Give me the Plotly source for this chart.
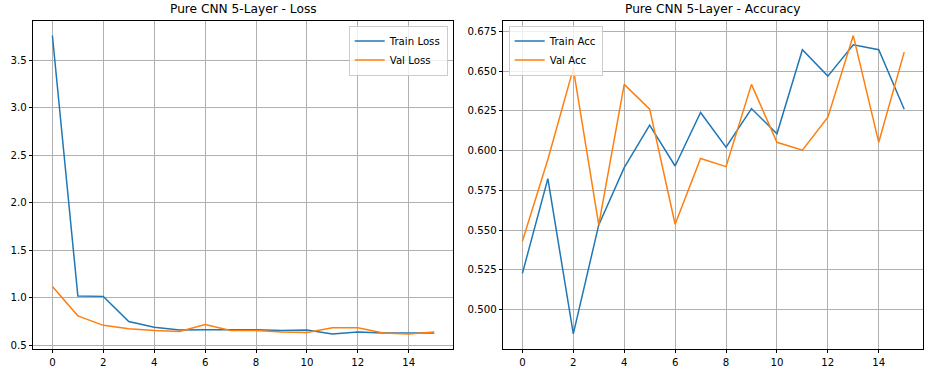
import plotly.graph_objects as go

epochs = list(range(16))
train_loss = [3.76, 1.02, 1.015, 0.75, 0.69, 0.66, 0.665, 0.665, 0.665, 0.655, 0.66, 0.62, 0.64, 0.63, 0.63, 0.63]
val_loss = [1.12, 0.81, 0.71, 0.675, 0.655, 0.645, 0.72, 0.655, 0.655, 0.64, 0.635, 0.685, 0.685, 0.63, 0.62, 0.64]
train_acc = [0.5228, 0.5824, 0.4848, 0.5533, 0.5893, 0.6160, 0.5903, 0.6239, 0.6021, 0.6264, 0.6106, 0.6634, 0.6468, 0.6665, 0.6634, 0.6260]
val_acc = [0.5430, 0.5944, 0.6515, 0.5533, 0.6416, 0.6260, 0.5537, 0.5950, 0.5899, 0.6416, 0.6052, 0.6003, 0.6210, 0.6723, 0.6052, 0.6619]

titles = ["Pure CNN 5-Layer - Loss", "Pure CNN 5-Layer - Accuracy"]
loss_ticks = [0.5, 1.0, 1.5, 2.0, 2.5, 3.0, 3.5]
acc_ticks = [0.500, 0.525, 0.550, 0.575, 0.600, 0.625, 0.650, 0.675]
x_ticks = [0, 2, 4, 6, 8, 10, 12, 14]

BLUE = "#1f77b4"
ORANGE = "#ff7f0e"
W, H = 930, 375
FONT = "DejaVu Sans"


def px_x(p):
    return p / W


def px_y(p):
    return 1 - p / H


fig = go.Figure()
fig.add_trace(go.Scatter(x=epochs, y=train_loss, mode="lines", name="Train Loss",
                         line=dict(color=BLUE, width=1.5), xaxis="x", yaxis="y", legend="legend"))
fig.add_trace(go.Scatter(x=epochs, y=val_loss, mode="lines", name="Val Loss",
                         line=dict(color=ORANGE, width=1.5), xaxis="x", yaxis="y", legend="legend"))
fig.add_trace(go.Scatter(x=epochs, y=train_acc, mode="lines", name="Train Acc",
                         line=dict(color=BLUE, width=1.5), xaxis="x2", yaxis="y2", legend="legend2"))
fig.add_trace(go.Scatter(x=epochs, y=val_acc, mode="lines", name="Val Acc",
                         line=dict(color=ORANGE, width=1.5), xaxis="x2", yaxis="y2", legend="legend2"))

ydom = [px_y(350.7), px_y(20.7)]
x1dom = [px_x(33.3), px_x(453.3)]
x2dom = [px_x(503.3), px_x(923.3)]

axis_common = dict(showline=True, linecolor="black", linewidth=1, mirror=True,
                   ticks="outside", ticklen=3.5, tickwidth=0.8, tickcolor="black",
                   showgrid=True, gridcolor="#b0b0b0", gridwidth=0.8, zeroline=False,
                   tickfont=dict(family=FONT, size=10.2, color="black"))

legend_common = dict(yanchor="top", bgcolor="rgba(255,255,255,0.8)", bordercolor="#cccccc",
                     borderwidth=1, font=dict(family=FONT, size=10.2), itemwidth=30,
                     tracegroupgap=0)

fig.update_layout(
    width=W, height=H,
    margin=dict(l=0, r=0, t=0, b=0),
    paper_bgcolor="white", plot_bgcolor="white",
    font=dict(family=FONT, color="black"),
    xaxis=dict(domain=x1dom, range=[-0.75, 15.75], tickvals=x_ticks, anchor="y", **axis_common),
    yaxis=dict(domain=ydom, range=[0.463, 3.917], tickvals=loss_ticks,
               ticktext=[f"{v:.1f}" for v in loss_ticks], anchor="x", **axis_common),
    xaxis2=dict(domain=x2dom, range=[-0.75, 15.75], tickvals=x_ticks, anchor="y2", **axis_common),
    yaxis2=dict(domain=ydom, range=[0.4754, 0.6817], tickvals=acc_ticks,
                ticktext=[f"{v:.3f}" for v in acc_ticks], anchor="x2", **axis_common),
    legend=dict(x=px_x(447.7), y=px_y(25.7), xanchor="right", **legend_common),
    legend2=dict(x=px_x(508.7), y=px_y(25.7), xanchor="left", **legend_common),
    showlegend=True,
    annotations=[
        dict(text=titles[0], x=(x1dom[0] + x1dom[1]) / 2, y=px_y(9.5), xref="paper", yref="paper",
             xanchor="center", yanchor="middle", showarrow=False, font=dict(family=FONT, size=12.2)),
        dict(text=titles[1], x=(x2dom[0] + x2dom[1]) / 2, y=px_y(9.5), xref="paper", yref="paper",
             xanchor="center", yanchor="middle", showarrow=False, font=dict(family=FONT, size=12.2)),
    ],
)

fig.write_html("out.html", config={"displayModeBar": False},
               post_script="document.body.style.margin='0';document.body.style.overflow='hidden';")
